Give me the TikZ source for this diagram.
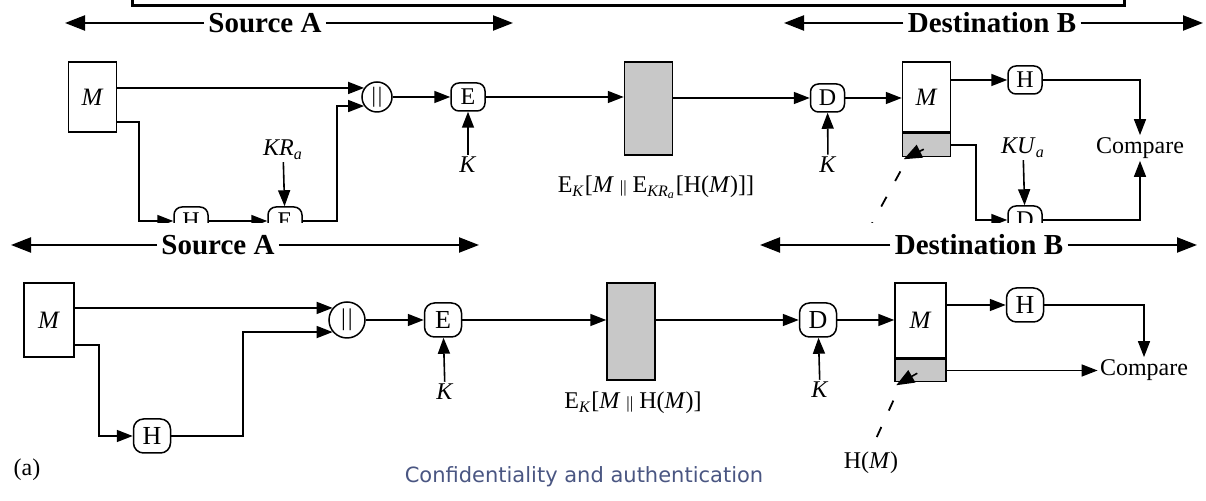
\documentclass[tikz,border=0pt]{standalone}
\usepackage{fontspec}
\setmainfont{Liberation Serif}
\newfontfamily\capfont{DejaVu Sans}
\usetikzlibrary{arrows.meta, positioning, calc}
\definecolor{boxgray}{RGB}{200,200,200}
\definecolor{captionblue}{RGB}{74,86,130}
\newcommand{\ek}{E\textsubscript{\textit{K}}}
\newcommand{\dbar}{{\fontsize{8.5}{8}\selectfont ||}}
\tikzset{
  fn/.style={draw, rounded corners=4pt, minimum width=17pt, minimum height=14pt, inner sep=0pt,
    line width=0.75pt, font=\fontsize{12}{13}\selectfont},
  fnb/.style={fn, rounded corners=5pt, minimum width=18.5pt, minimum height=17pt, font=\fontsize{13}{14}\selectfont},
  cat/.style={draw, circle, minimum size=15pt, inner sep=0pt, line width=0.75pt, font=\fontsize{11}{12}\selectfont},
  msg/.style={draw, minimum width=24pt, inner sep=0pt, line width=0.75pt, font=\fontsize{12.5}{13}\selectfont},
  arr/.style={-{Triangle[length=8pt, width=6pt]}, line width=0.8pt},
  pin/.style={-{Triangle[length=9pt, width=7pt]}, line width=0.8pt},
  span/.style={-{Triangle[length=10pt, width=7.5pt]}, line width=1.1pt},
  side/.style={inner sep=2pt, font=\fontsize{14.5}{16}\selectfont\bfseries},
  lbl/.style={inner sep=1pt, font=\fontsize{12}{13}\selectfont},
  leader/.style={line width=0.9pt, dash pattern=on 5.5pt off 9pt, dash phase=11pt},
  caption/.style={inner sep=0pt, text=captionblue, font=\capfont\fontsize{10.5}{12}\selectfont},
}
\begin{document}
\begin{tikzpicture}[x=0.5pt, y=-0.5pt]
\useasboundingbox (0,0) rectangle (1206,501);

% cut-off frame of the figure above
\draw[line width=1.5pt] (132,-4) |- (1124,6) -- (1124,-4);

% upper figure: side banners
\node[side] (srcA1) at (265,23) {Source A};
\coordinate (srcA1l) at (65,23);
\coordinate (srcA1r) at (513,23);
\draw[span] (srcA1.west) -- (srcA1l);
\draw[span] (srcA1.east) -- (srcA1r);
\node[side] (dstB1) at (992,23) {Destination B};
\coordinate (dstB1l) at (784,23);
\coordinate (dstB1r) at (1203,23);
\draw[span] (dstB1.west) -- (dstB1l);
\draw[span] (dstB1.east) -- (dstB1r);

% upper figure (cut at the bottom)
\begin{scope}
\clip (0,30) rectangle (1206,223);
\node[msg, minimum height=35pt] (m1) at (92.5,97) {\textit{M}};
\node[cat] (cat1) at (377,97) {|\kern1pt|};
\node[fn] (h1) at (191,221) {H};
\node[fn] (e1) at (285,221) {E};
\node[lbl] (kra) at (283,150) {\textit{KR}\textsubscript{\textit{a}}};
\node[fn] (e2) at (468,97) {E};
\node[lbl] (k1) at (468,165) {\textit{K}};
\node[msg, fill=boxgray, minimum height=46.5pt] (g1) at (648.5,108.5) {};
\node[lbl] (ek1) at (656,187) {\ek[\textit{M} \dbar\ E\textsubscript{\textit{KR}\textsubscript{\textit{a}}}[H(\textit{M})]]};
\node[fn] (d1) at (827.5,98) {D};
\node[lbl] (k2) at (828,165) {\textit{K}};
\node[msg, minimum height=35pt] (m2) at (926.5,97) {\textit{M}};
\node[msg, fill=boxgray, minimum height=11.5pt, below=0pt of m2] (m2g) {};
\node[fn] (h2) at (1025,80) {H};
\node[lbl] (cmp1) at (1140,148) {Compare};
\node[lbl] (kua) at (1023,148) {\textit{KU}\textsubscript{\textit{a}}};
\node[fn] (d2) at (1025,220) {D};

\draw[arr] (m1.east |- cat1.145) -- (cat1.145);
\draw[arr] ($(m1.south east)+(0,-11)$) -- ++(22,0) |- (h1.west);
\draw[arr] (h1) -- (e1);
\draw[arr] (kra) -- (e1);
\draw[arr] (e1.east) -- ++(34,0) |- (cat1.215);
\draw[arr] (cat1) -- (e2);
\draw[arr] (k1) -- (e2);
\draw[arr] (e2.east) -- (e2.east -| g1.west);
\draw[arr] (g1.east |- d1) -- (d1);
\draw[arr] (k2) -- (d1);
\draw[arr] (d1) -- (d1 -| m2.west);
\draw[arr] (m2.east |- h2) -- (h2);
\draw[arr] (h2) -| (cmp1);
\draw[arr] (m2g.east) -- ++(25,0) |- (d2);
\draw[arr] (kua) -- (d2);
\draw[arr] (d2) -| (cmp1);
\draw[pin] ($(m2g.south west)+(22,-8)$) -- ($(m2g.south west)+(2,2)$);
\draw[leader] ($(m2g.south west)+(2,8)$) -- ++(-36,66);
\end{scope}

% lower figure: side banners
\node[side] (srcA2) at (218,245) {Source A};
\coordinate (srcA2l) at (11,245);
\coordinate (srcA2r) at (479,245);
\draw[span] (srcA2.west) -- (srcA2l);
\draw[span] (srcA2.east) -- (srcA2r);
\node[side] (dstB2) at (979,245) {Destination B};
\coordinate (dstB2l) at (760,245);
\coordinate (dstB2r) at (1197,245);
\draw[span] (dstB2.west) -- (dstB2l);
\draw[span] (dstB2.east) -- (dstB2r);

% lower figure
\node[msg, minimum width=25pt, minimum height=37pt] (m3) at (49,320) {\textit{M}};
\node[cat, minimum size=18pt, font=\fontsize{12}{13}\selectfont] (cat2) at (347,320) {|\kern1pt|};
\node[fnb] (h3) at (152,436) {H};
\node[fnb] (e3) at (443,320) {E};
\node[lbl] (k3) at (445,392) {\textit{K}};
\node[msg, fill=boxgray, minimum height=48.5pt] (g2) at (631,331.5) {};
\node[lbl] (ek2) at (633,403) {\ek[\textit{M} \dbar\ H(\textit{M})]};
\node[fnb] (d3) at (818,320) {D};
\node[lbl] (k4) at (820,390) {\textit{K}};
\node[msg, minimum width=25.5pt, minimum height=37.5pt] (m4) at (920.5,320.5) {\textit{M}};
\node[msg, minimum width=25.5pt, fill=boxgray, minimum height=11pt, below=0pt of m4] (m4g) {};
\node[fnb] (h4) at (1025,305) {H};
\node[lbl] (cmp2) at (1144,370) {Compare};
\node[lbl] (hm) at (871,463) {H(\textit{M})};
\node[lbl] (tag) at (27,470) {(a)};
\node[caption] (cap) at (584,477) {Confidentiality and authentication};

\draw[arr] (m3.east |- cat2.140) -- (cat2.140);
\draw[arr] ($(m3.south east)+(0,-13)$) -- ++(24,0) |- (h3);
\draw[arr] (h3.east) -- ++(72,0) |- (cat2.220);
\draw[arr] (cat2) -- (e3);
\draw[arr] (k3) -- (e3);
\draw[arr] (e3) -- (e3 -| g2.west);
\draw[arr] (g2.east |- d3) -- (d3);
\draw[arr] (k4) -- (d3);
\draw[arr] (d3) -- (d3 -| m4.west);
\draw[arr] (m4.east |- h4) -- (h4);
\draw[arr] (h4) -| (cmp2);
\draw[arr] (m4g.east) -- (m4g.east -| cmp2.west);
\draw[pin] ($(m4g.south west)+(23,-9)$) -- ($(m4g.south west)+(2,3)$);
\draw[leader] ($(m4g.south west)+(2,12)$) -- (hm.north);
\end{tikzpicture}
\end{document}
